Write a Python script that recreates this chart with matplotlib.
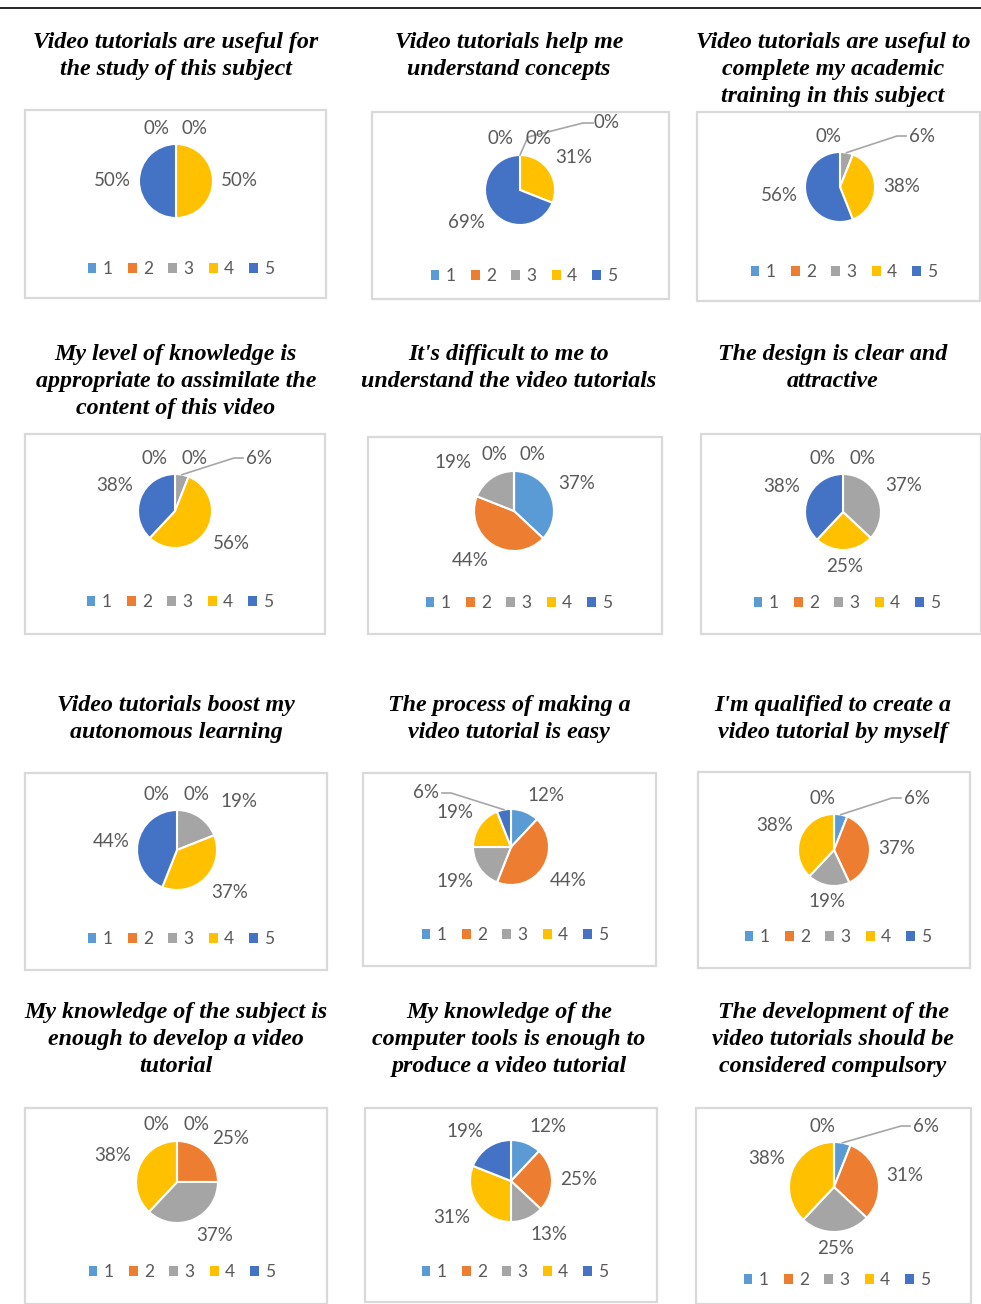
import numpy as np
import matplotlib.pyplot as plt
from matplotlib.patches import Rectangle

W, H = 981, 1304

categories = ['1', '2', '3', '4', '5']
colors = ['#5B9BD5', '#ED7D31', '#A5A5A5', '#FFC000', '#4472C4']

titles = [
    "Video tutorials are useful for\nthe study of this subject",
    "Video tutorials help me\nunderstand concepts",
    "Video tutorials are useful to\ncomplete my academic\ntraining in this subject",
    "My level of knowledge is\nappropriate to assimilate the\ncontent of this video",
    "It's difficult to me to\nunderstand the video tutorials",
    "The design is clear and\nattractive",
    "Video tutorials boost my\nautonomous learning",
    "The process of making a\nvideo tutorial is easy",
    "I'm qualified to create a\nvideo tutorial by myself",
    "My knowledge of the subject is\nenough to develop a video\ntutorial",
    "My knowledge of the\ncomputer tools is enough to\nproduce a video tutorial",
    "The development of the\nvideo tutorials should be\nconsidered compulsory",
]

# percentage of answers 1..5 for each question
values = [
    [0, 0, 0, 50, 50],
    [0, 0, 0, 31, 69],
    [0, 0, 6, 38, 56],
    [0, 0, 6, 56, 38],
    [37, 44, 19, 0, 0],
    [0, 0, 37, 25, 38],
    [0, 0, 19, 37, 44],
    [12, 44, 19, 19, 6],
    [6, 37, 19, 38, 0],
    [0, 25, 37, 38, 0],
    [12, 25, 13, 31, 19],
    [6, 31, 25, 38, 0],
]
# how many "0%" labels are visible on each chart
zero_shown = [2, 3, 1, 2, 2, 2, 2, 0, 1, 2, 0, 1]

# layout in pixels (y measured from the top)
boxes = [(25, 110, 326, 298), (372, 112, 669, 299), (697, 112, 980, 301),
         (25, 434, 325, 634), (368, 437, 662, 634), (701, 434, 981, 634),
         (25, 773, 327, 970), (363, 773, 656, 966), (698, 772, 970, 968),
         (25, 1108, 327, 1304), (365, 1108, 657, 1302), (696, 1108, 971, 1304)]
pies = [(176, 181, 37), (520, 190, 35), (840, 187, 35),
        (175, 511, 37), (514, 511, 40), (843, 512, 38),
        (177, 850, 40), (511, 847, 38), (834, 850, 36),
        (177, 1182, 41), (511, 1181, 41), (834, 1187, 45)]
legends = [(181, 269), (524, 276), (844, 272),
           (180, 602), (519, 603), (847, 603),
           (181, 939), (515, 935), (838, 937),
           (182, 1272), (515, 1272), (837, 1280)]
title_x = [176, 509, 833]
title_y = [40, 352, 703, 1010]

label_color = '#595959'
line_color = '#A6A6A6'
lab_font = dict(family='Lato', fontsize=13.5, color=label_color)

fig = plt.figure(figsize=(W / 100, H / 100), dpi=100)
ax = fig.add_axes([0, 0, 1, 1])


def Y(y):
    return H - y


# black rule at the top
ax.plot([0, W], [Y(8), Y(8)], color='black', lw=1.2)

handles = [Rectangle((0, 0), 1, 1, facecolor=c, edgecolor='none') for c in colors]

for i in range(12):
    col, row = i % 3, i // 3
    ax.text(title_x[col], Y(title_y[row] - 8), titles[i], ha='center', va='top',
            family='Liberation Serif', fontweight='bold', fontstyle='italic',
            fontsize=17.3, linespacing=1.38, color='black')

    x0, y0, x1, y1 = boxes[i]
    ax.add_patch(Rectangle((x0, Y(y1)), x1 - x0, y1 - y0, facecolor='white',
                           edgecolor='#D9D9D9', lw=1.6, zorder=0))

    cx, cy, r = pies[i]
    wedges, _ = ax.pie(values[i], colors=colors, startangle=90, counterclock=False,
                       center=(cx, Y(cy)), radius=r,
                       wedgeprops=dict(edgecolor='white', linewidth=1.5))

    nz = 0
    for v, w in zip(values[i], wedges):
        mid = np.deg2rad((w.theta1 + w.theta2) / 2)
        dx, dy = np.cos(mid), np.sin(mid)
        if v == 0:
            if nz >= zero_shown[i]:
                nz += 1
                continue
            if zero_shown[i] == 1:
                tx = cx - 12
            else:
                tx = cx + [-20, 19][min(nz, 1)]
            ty = Y(cy) + r + 16
            if nz == 2:
                tx, ty = cx + r + 52, Y(cy) + r + 32
                ax.plot([cx, cx + 8, tx - 24, tx - 14], [Y(cy) + r, ty - 14, ty, ty],
                        color=line_color, lw=1.2)
                ax.text(tx - 14, ty, '0%', ha='left', va='center', **lab_font)
            else:
                ax.text(tx, ty, '0%', ha='center', va='center', **lab_font)
            nz += 1
            continue
        if v <= 6:
            s = 1 if dx >= 0 else -1
            tx = cx + s * (r + 34)
            ty = Y(cy) + r + 16
            ex, ey = cx + r * dx, Y(cy) + r * dy
            ax.plot([ex, tx - s * 12, tx - s * 3], [ey, ty, ty], color=line_color, lw=1.2)
            ax.text(tx, ty, f'{v}%', ha='left' if s > 0 else 'right', va='center',
                    **lab_font)
            continue
        lx_, ly_ = cx + (r + 8) * dx, Y(cy) + (r + 8) * dy
        if dy > 0.75 and zero_shown[i] > 0:
            # keep clear of the 0% labels at the top
            lx_ += 16 * np.sign(dx)
        ha = 'left' if dx > 0.25 else ('right' if dx < -0.25 else 'center')
        va = 'bottom' if dy > 0.25 else ('top' if dy < -0.25 else 'center')
        ax.text(lx_, ly_, f'{v}%', ha=ha, va=va, **lab_font)

    lx, ly = legends[i]
    fig.legend(handles, categories, loc='center', ncol=5, frameon=False,
               bbox_to_anchor=(lx / W, 1 - ly / H), handlelength=0.5,
               handleheight=0.5, handletextpad=0.35, columnspacing=0.9,
               prop={'family': 'Lato', 'size': 12.5}, labelcolor=label_color)

ax.set_xlim(0, W)
ax.set_ylim(0, H)
ax.set_aspect('auto')
ax.axis('off')

fig.savefig('out.png', dpi=100)
